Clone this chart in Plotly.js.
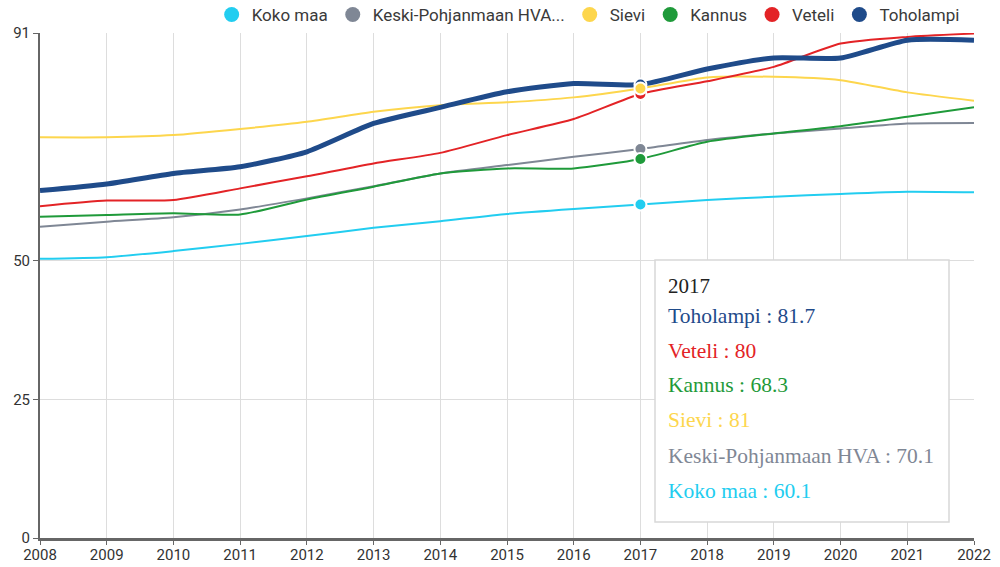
<!DOCTYPE html>
<html>
<head>
<meta charset="utf-8">
<script src="https://cdn.plot.ly/plotly-3.0.1.min.js"></script>
<style>html,body{margin:0;padding:0;background:#fff;}#chart{width:1000px;height:567px;}</style>
</head>
<body>
<div id="chart"></div>
<script>
const years = [2008,2009,2010,2011,2012,2013,2014,2015,2016,2017,2018,2019,2020,2021,2022];
const kokoMaa   = [50.3,50.6,51.7,53.0,54.4,55.9,57.1,58.4,59.3,60.1,60.9,61.5,62.0,62.4,62.3];
const keskiPohj = [56.1,57.0,57.8,59.2,61.2,63.4,65.7,67.2,68.7,70.1,71.7,72.9,73.8,74.7,74.8];
const sievi     = [72.2,72.2,72.6,73.7,75.0,76.8,78.0,78.5,79.4,81.0,83.0,83.1,82.5,80.3,78.8];
const kannus    = [57.9,58.2,58.5,58.3,61.0,63.3,65.7,66.6,66.6,68.3,71.4,72.9,74.2,75.9,77.6];
const veteli    = [59.8,60.8,60.9,63.0,65.2,67.5,69.4,72.6,75.5,80.0,82.3,84.9,89.1,90.3,90.9];
const toholampi = [62.6,63.8,65.7,66.9,69.6,74.7,77.6,80.4,81.9,81.7,84.5,86.5,86.5,89.7,89.7];
const yTicks = [0,25,50,91];
const hoverYear = 2017;

const series = [
  {name:'Koko maa', legendName:'Koko maa', y:kokoMaa, color:'#22cdf0', width:2},
  {name:'Keski-Pohjanmaan HVA', legendName:'Keski-Pohjanmaan HVA...', y:keskiPohj, color:'#7f8795', width:2},
  {name:'Sievi', legendName:'Sievi', y:sievi, color:'#fdd64d', width:2},
  {name:'Kannus', legendName:'Kannus', y:kannus, color:'#1f9a3a', width:2},
  {name:'Veteli', legendName:'Veteli', y:veteli, color:'#e32326', width:2},
  {name:'Toholampi', legendName:'Toholampi', y:toholampi, color:'#1f4b8a', width:5}
];

const hi = years.indexOf(hoverYear);
const traces = [];
series.forEach(s => {
  traces.push({x:years, y:s.y, type:'scatter', mode:'lines', name:s.name, showlegend:false,
    line:{color:s.color, width:s.width, shape:'spline', smoothing:0.6}, hoverinfo:'skip'});
});
// hover markers: Sievi drawn last so it sits on top of Toholampi
const markerOrder = [0,1,3,4,5,2];
markerOrder.forEach(k => {
  const s = series[k];
  traces.push({x:[years[hi]], y:[s.y[hi]], type:'scatter', mode:'markers', showlegend:false,
    marker:{color:s.color, size:12, line:{color:'#ffffff', width:2}}, hoverinfo:'skip'});
});
series.forEach(s => {
  traces.push({x:[null], y:[null], type:'scatter', mode:'markers', name:s.legendName, showlegend:true,
    marker:{color:s.color, size:15}});
});

// tooltip
const px = v => (v-40)/934;
const py = v => (538-v)/505;
const annotations = [];
annotations.push({xref:'paper', yref:'paper', x:px(666), y:py(286), xanchor:'left', yanchor:'middle',
  text:String(hoverYear), showarrow:false, font:{family:'Liberation Serif', size:21, color:'#222'}});
const tipOrder = series.slice().reverse();
const tipY = [316,351,385,420,456,491];
tipOrder.forEach((s,i) => {
  annotations.push({xref:'paper', yref:'paper', x:px(666), y:py(tipY[i]), xanchor:'left', yanchor:'middle',
    text:s.name + ' : ' + s.y[hi], showarrow:false, font:{family:'Liberation Serif', size:21.5, color:s.color}});
});

const layout = {
  width:1000, height:567,
  margin:{l:40, r:26, t:33, b:29, autoexpand:false},
  paper_bgcolor:'#fff', plot_bgcolor:'#fff',
  font:{family:'Roboto, sans-serif', size:14, color:'#333'},
  xaxis:{range:[2008,2022], tickvals:years, ticktext:years.map(String), showgrid:true, gridcolor:'#dddddd', gridwidth:1,
    showline:true, linecolor:'#666', linewidth:3, ticks:'outside', ticklen:4, tickcolor:'#666', zeroline:false,
    ticklabelstandoff:-3,
    tickfont:{family:'Roboto, sans-serif', size:15, color:'#333'}, fixedrange:true},
  yaxis:{range:[0,91], tickvals:yTicks, ticktext:yTicks.map(String), showgrid:true, gridcolor:'#dddddd', gridwidth:1,
    showline:true, linecolor:'#666', linewidth:2, ticks:'outside', ticklen:5, tickcolor:'#666', zeroline:false,
    tickfont:{family:'Roboto, sans-serif', size:15, color:'#333'}, fixedrange:true},
  legend:{orientation:'h', x:0.99, xanchor:'right', y:1.0, yanchor:'bottom', font:{family:'Roboto, sans-serif', size:17, color:'#3a3a3a'},
    itemwidth:30, tracegroupgap:0, bgcolor:'rgba(0,0,0,0)'},
  shapes:[{type:'rect', xref:'paper', yref:'paper', x0:px(655), x1:px(949), y0:py(522), y1:py(260),
    fillcolor:'#ffffff', line:{color:'#d8d8d8', width:1.5}, layer:'above'}],
  annotations:annotations,
  showlegend:true
};
Plotly.newPlot('chart', traces, layout, {displayModeBar:false, staticPlot:true});
</script>
</body>
</html>
